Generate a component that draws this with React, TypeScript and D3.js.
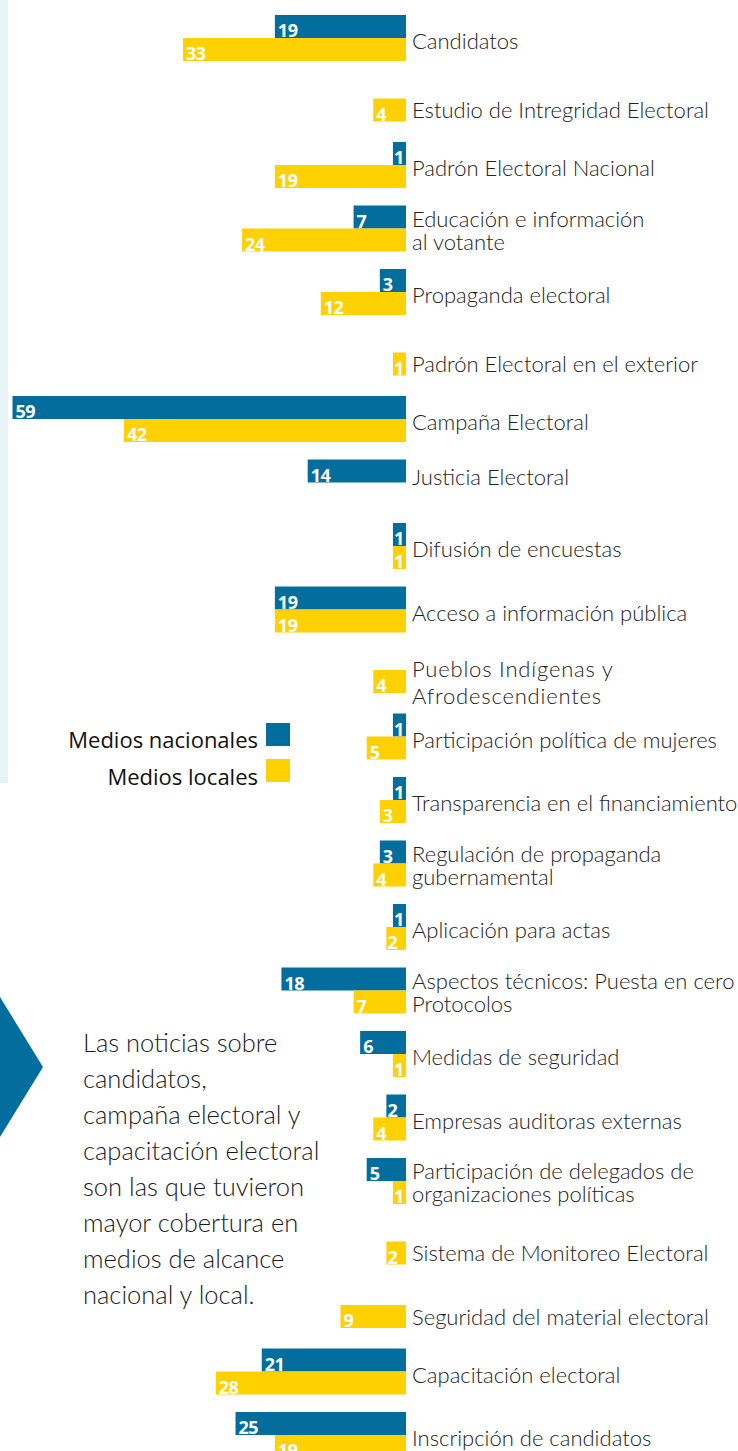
import React from "react";
import * as d3 from "d3";

const categories: string[] = [
  "Candidatos",
  "Estudio de Intregridad Electoral",
  "Padrón Electoral Nacional",
  "Educación e información\nal votante",
  "Propaganda electoral",
  "Padrón Electoral en el exterior",
  "Campaña Electoral",
  "Justicia Electoral",
  "Difusión de encuestas",
  "Acceso a información pública",
  "Pueblos Indígenas y\nAfrodescendientes",
  "Participación política de mujeres",
  "Transparencia en el financiamiento",
  "Regulación de propaganda\ngubernamental",
  "Aplicación para actas",
  "Aspectos técnicos: Puesta en cero\nProtocolos",
  "Medidas de seguridad",
  "Empresas auditoras externas",
  "Participación de delegados de\norganizaciones políticas",
  "Sistema de Monitoreo Electoral",
  "Seguridad del material electoral",
  "Capacitación electoral",
  "Inscripción de candidatos",
];

const nacionales: number[] = [19, 0, 1, 7, 3, 0, 59, 14, 1, 19, 0, 1, 1, 3, 1, 18, 6, 2, 5, 0, 0, 21, 25];
const locales: number[] = [33, 4, 19, 24, 12, 1, 42, 0, 1, 19, 4, 5, 3, 4, 2, 7, 1, 4, 1, 2, 9, 28, 19];

const legendLabels: string[] = ["Medios nacionales", "Medios locales"];

const paragraph: string[] = [
  "Las noticias sobre",
  "candidatos,",
  "campaña electoral y",
  "capacitación electoral",
  "son las que tuvieron",
  "mayor cobertura en",
  "medios de alcance",
  "nacional y local.",
];

const BLUE = "#036e9d";
const YELLOW = "#ffd100";
const W = 738;
const H = 1451;
const BASE_X = 406;
const BAR_H = 23;

export default function App() {
  const y = d3
    .scaleBand<string>()
    .domain(categories)
    .range([15, 15 + 63.5 * categories.length])
    .paddingInner(0)
    .paddingOuter(0);

  const w = d3.scaleLinear().domain([0, 59]).range([6.5, 393.5]);

  const labelFont = "Lato, 'Open Sans', sans-serif";
  const numFont = "'Open Sans', sans-serif";

  return (
    <>
      <style>{`body{margin:0;} svg{display:block;}`}</style>
      <svg width={W} height={H} viewBox={`0 0 ${W} ${H}`}>
        <rect x={0} y={0} width={W} height={H} fill="#ffffff" />
        <rect x={0} y={0} width={8} height={783} fill="#e8f3f6" />
        <path d="M0,997 L43,1067 L0,1137 Z" fill={BLUE} />

        {categories.map((c, i) => {
          const top = y(c) as number;
          const nac = nacionales[i];
          const loc = locales[i];
          const boundary = top + BAR_H;
          const yTopLoc = nac > 0 ? boundary : boundary - 3;
          const lines = c.split("\n");
          let baselines: number[] = [];
          if (nac > 0 && loc > 0) {
            baselines = lines.length === 1 ? [boundary + 11] : [boundary - 2, boundary + 21];
          } else if (loc > 0) {
            const cen = yTopLoc + BAR_H / 2;
            baselines = lines.length === 1 ? [cen + 8] : [cen - 5, cen + 22];
          } else {
            baselines = [top + BAR_H + 2];
          }
          const spaced = c.startsWith("Pueblos");
          return (
            <g key={c}>
              {nac > 0 && (
                <g>
                  <rect x={BASE_X - w(nac)} y={top} width={w(nac)} height={BAR_H} fill={BLUE} />
                  <text
                    x={BASE_X - w(nac) + (nac < 3 ? 1 : 3)}
                    y={top + BAR_H - 1}
                    fill="#ffffff"
                    fontFamily={numFont}
                    fontWeight={700}
                    fontSize={18}
                    letterSpacing={-0.5}
                  >
                    {nac}
                  </text>
                </g>
              )}
              {loc > 0 && (
                <g>
                  <rect x={BASE_X - w(loc)} y={yTopLoc} width={w(loc)} height={BAR_H} fill={YELLOW} />
                  <text
                    x={BASE_X - w(loc) + (loc < 3 ? 1 : 3)}
                    y={yTopLoc + BAR_H - 1}
                    fill="#ffffff"
                    fontFamily={numFont}
                    fontWeight={700}
                    fontSize={18}
                    letterSpacing={-0.5}
                  >
                    {loc}
                  </text>
                </g>
              )}
              {lines.map((ln, k) => (
                <text
                  key={k}
                  x={412}
                  y={baselines[k]}
                  fill="#222222"
                  fontFamily={labelFont}
                  fontWeight={300}
                  fontSize={22}
                  letterSpacing={spaced ? 0.8 : 0}
                >
                  {ln}
                </text>
              ))}
            </g>
          );
        })}

        {legendLabels.map((l, i) => (
          <g key={l}>
            <text
              x={258}
              y={748 + i * 37}
              textAnchor="end"
              fill="#111111"
              fontFamily={numFont}
              fontWeight={400}
              fontSize={22}
            >
              {l}
            </text>
            <rect x={266} y={723 + i * 36} width={24} height={23} fill={i === 0 ? BLUE : YELLOW} />
          </g>
        ))}

        {paragraph.map((p, i) => (
          <text
            key={i}
            x={83}
            y={1052 + i * 36}
            fill="#1a1a1a"
            fontFamily={labelFont}
            fontWeight={300}
            fontSize={25.5}
          >
            {p}
          </text>
        ))}
      </svg>
    </>
  );
}
